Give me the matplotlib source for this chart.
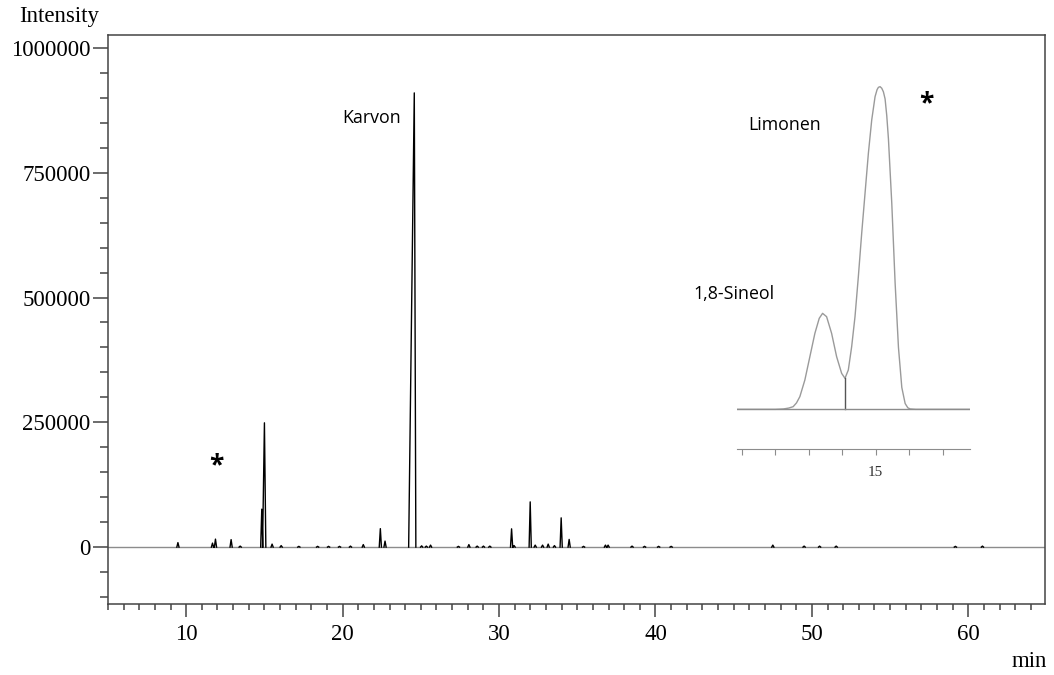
import numpy as np
import matplotlib
matplotlib.use('Agg')
import matplotlib.pyplot as plt
from matplotlib.ticker import MultipleLocator, FixedLocator, FuncFormatter

plt.rcParams['font.family'] = ['Liberation Serif', 'DejaVu Serif']

# peaks: retention time (min), height, left / right half width (min)
peak_rt = [9.47, 11.68, 11.87, 12.87, 13.45, 14.83, 15.00, 15.49, 16.07, 17.2, 18.4, 19.1,
           19.8, 20.5, 21.32, 22.41, 22.71, 24.58, 25.05, 25.35, 25.62, 27.4, 28.07, 28.6,
           29.0, 29.41, 30.80, 30.96, 31.99, 32.31, 32.78, 33.14, 33.54, 33.97, 34.48, 35.4,
           36.8, 36.97, 38.5, 39.3, 40.2, 41.0, 47.5, 49.5, 50.49, 51.55, 59.17, 60.9]
peak_h = [9000, 8000, 16000, 15000, 2000, 76000, 249000, 6000, 3000, 1500, 1500, 1500,
          1500, 2000, 5000, 37000, 12000, 910000, 2500, 2000, 4000, 1500, 5000, 2000,
          2000, 2000, 36600, 3000, 90600, 4000, 4000, 6000, 3000, 58600, 15400, 1500,
          4000, 4000, 2000, 1500, 1500, 1500, 4000, 2000, 2000, 2000, 1500, 2000]
peak_wl = [0.07] * len(peak_rt)
peak_wr = [0.07] * len(peak_rt)
peak_wl[6] = 0.12    # Limonen + Sineol
peak_wr[6] = 0.09
peak_wl[17] = 0.36   # Karvon, fronting
peak_wr[17] = 0.10

# zoomed trace of the 1,8-Sineol / Limonen pair (inset)
inset_t = [14.585, 14.700, 14.724, 14.740, 14.753, 14.763, 14.773, 14.788, 14.803, 14.818,
           14.831, 14.841, 14.853, 14.868, 14.883, 14.898, 14.908, 14.918, 14.928, 14.938,
           14.948, 14.958, 14.968, 14.978, 14.988, 14.998, 15.004, 15.008, 15.013, 15.018,
           15.023, 15.028, 15.033, 15.038, 15.048, 15.058, 15.068, 15.078, 15.088, 15.096,
           15.103, 15.120, 15.282]
inset_v = [0, 0, 300, 1000, 2070, 5000, 9830, 22770, 40890, 59010,
           70650, 74530, 71950, 59010, 40890, 27950, 24070, 30540, 48650, 71950,
           103000, 136650, 167700, 198760, 224640, 242750, 248200, 250000, 250520, 249300,
           246500, 241000, 228000, 210000, 160000, 98000, 48000, 17000, 4500, 1200,
           300, 0, 0]
valley_t = 14.908
valley_v = 24070

labels = ['Karvon', 'Limonen', '1,8-Sineol']
label_t = [21.88, 48.25, 44.99]
label_v = [860000, 846000, 508000]
star_t = [11.92, 57.32]
star_v = [163000, 888000]

W, H = 1054, 675
fig = plt.figure(figsize=(W / 100, H / 100), dpi=100)
ax = fig.add_axes([108 / W, 1 - 604 / H, (1045 - 108) / W, (604 - 35) / H])

# build trace: one triangle per peak, gaps between
xs, ys = [], []
for rt, h, wl, wr in zip(peak_rt, peak_h, peak_wl, peak_wr):
    xs += [rt - wl, rt, rt + wr, np.nan]
    ys += [0, h, 0, np.nan]

ax.axhline(0, color='#8c8c8c', lw=1.0, zorder=1)
ax.plot(xs, ys, color='black', lw=1.0, zorder=2)

ax.set_xlim(5, 64.9)
ax.set_ylim(-114000, 1026000)
ax.xaxis.set_major_locator(MultipleLocator(10))
ax.xaxis.set_minor_locator(MultipleLocator(1))
ax.yaxis.set_major_locator(MultipleLocator(250000))
ax.yaxis.set_minor_locator(MultipleLocator(50000))
ax.yaxis.set_major_formatter(FuncFormatter(lambda v, p: '%d' % v))

for sp in ax.spines.values():
    sp.set_color('#444444')
    sp.set_linewidth(1.1)
ax.tick_params(axis='both', which='both', direction='out', colors='#444444', labelcolor='black',
               labelsize=16.5)
ax.tick_params(axis='y', which='major', length=11, width=1.1, pad=1.5)
ax.tick_params(axis='y', which='minor', length=6, width=1.1)
ax.tick_params(axis='x', which='major', length=9.5, width=1.1, pad=5)
ax.tick_params(axis='x', which='minor', length=4.5, width=1.1)

for txt, t, v in zip(labels, label_t, label_v):
    ax.text(t, v, txt, ha='center', va='center', fontsize=12.8, family=['Open Sans', 'DejaVu Sans'])
for t, v in zip(star_t, star_v):
    ax.text(t, v, '*', ha='center', va='center', fontsize=19, fontweight='bold',
            family=['Open Sans', 'DejaVu Sans'])

fig.text(19 / W, 1 - 22 / H, 'Intensity', ha='left', va='baseline', fontsize=16.5)
fig.text(1047 / W, 1 - 667 / H, 'min', ha='right', va='baseline', fontsize=16.5)

# inset
ins = fig.add_axes([737 / W, 1 - 449 / H, (970 - 737) / W, (449 - 80) / H])
ins.patch.set_alpha(0)
ins.plot(inset_t, inset_v, color='#9a9a9a', lw=1.0)
ins.plot([valley_t, valley_t], [0, valley_v], color='#555555', lw=1.0)
ins.axhline(0, color='#8c8c8c', lw=1.0)
ins.set_xlim(14.585, 15.282)
ins.set_ylim(-30800, 255700)
for s in ['left', 'right', 'top']:
    ins.spines[s].set_visible(False)
ins.spines['bottom'].set_color('#8c8c8c')
ins.set_yticks([])
ins.xaxis.set_major_locator(FixedLocator([14.6, 14.7, 14.8, 14.9, 15.0, 15.1, 15.2]))
ins.xaxis.set_major_formatter(FuncFormatter(lambda v, p: '15' if abs(v - 15) < 1e-6 else ''))
ins.tick_params(axis='x', direction='out', length=4, width=0.8, colors='#8c8c8c',
                labelcolor='#333333', labelsize=11, pad=8)

fig.savefig('out.png', dpi=100)
